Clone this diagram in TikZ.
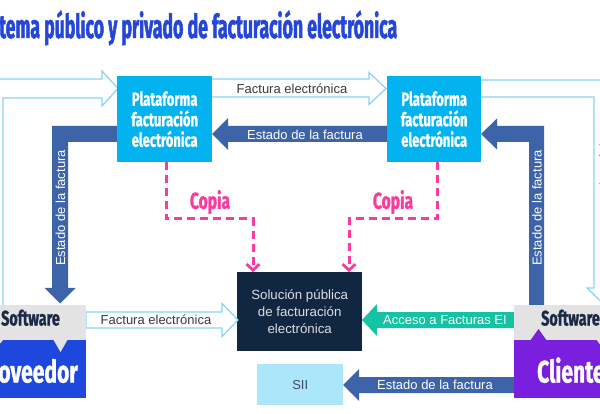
\documentclass[tikz,border=0pt]{standalone}
\usepackage{fontspec}
\setmainfont{Liberation Sans}
\newfontfamily\condfont[FakeStretch=0.68,FakeBold=1.2]{Fira Sans}
\newfontfamily\titlefont[FakeStretch=0.535,FakeBold=1.4]{Fira Sans}
\usetikzlibrary{arrows.meta}
\definecolor{titleblue}{HTML}{2447D9}
\definecolor{cyanbox}{HTML}{03B3F0}
\definecolor{solidblue}{HTML}{3D63A8}
\definecolor{lightline}{HTML}{86D3F7}
\definecolor{copypink}{HTML}{FA3A9C}
\definecolor{navybox}{HTML}{112640}
\definecolor{siibox}{HTML}{ABE6FB}
\definecolor{tealarrow}{HTML}{15C2A1}
\definecolor{softgrey}{HTML}{E3E3E3}
\definecolor{provblue}{HTML}{1E48DD}
\definecolor{clipurple}{HTML}{7A1FDD}
\definecolor{softtext}{HTML}{1B2A45}
\definecolor{graytext}{HTML}{3A3A3A}
\tikzset{
  platbox/.style={fill=cyanbox, draw=none},
  plattext/.style={text=white, font=\condfont\bfseries\fontsize{19}{20.5}\selectfont, align=center, inner sep=0},
  hollowarrow/.style={draw=lightline, line width=1.2pt, fill=white, line join=miter},
  solidarrow/.style={fill=solidblue, draw=none},
  arrowtext/.style={font=\fontsize{13}{15}\selectfont, inner sep=0},
  copyline/.style={draw=copypink, line width=3pt, dash pattern=on 8pt off 5pt, -{Straight Barb[length=6pt,width=13pt,line width=2.8pt]}},
  copytext/.style={text=copypink, font=\condfont\bfseries\fontsize{23}{24}\selectfont, inner sep=0},
  softwaretext/.style={text=softtext, font=\condfont\bfseries\fontsize{21}{22}\selectfont, inner sep=0},
  bigtext/.style={text=white, font=\condfont\bfseries\fontsize{31}{32}\selectfont, inner sep=0}
}
\begin{document}
\begin{tikzpicture}[x=1pt,y=-1pt]
\useasboundingbox (0,0) rectangle (600,414);
\clip (0,0) rectangle (600,414);
\fill[white] (0,0) rectangle (600,414);

% title
\node[anchor=base west, inner sep=0, text=titleblue, font=\titlefont\bfseries\fontsize{33}{34}\selectfont] (title) at (-1,38) {tema público y privado de facturación electrónica};

% hollow arrow from left edge into left platform
\draw[hollowarrow] (3,305) -- (3,98) -- (102,98) -- (102,106) -- (118,88.5) -- (102,71) -- (102,79) -- (-16,79) -- (-16,305);

% hollow arrow from right platform down to Cliente
\draw[hollowarrow] (470,80) -- (613,80) -- (613,288) -- (620,288) -- (603.5,304) -- (587,288) -- (594,288) -- (594,97) -- (470,97);
\node[arrowtext, text=graytext, rotate=90] (rtext) at (604.5,185) {Factura electrónica};

% top hollow arrow between platforms
\draw[hollowarrow] (205,79) -- (369,79) -- (369,72.5) -- (386,88.5) -- (369,104.5) -- (369,97) -- (205,97);
\node[arrowtext, text=graytext] (t1) at (292,88.5) {Factura electrónica};

% top solid arrow Estado
\fill[solidblue] (395,126) -- (228,126) -- (228,118) -- (212,134) -- (228,150) -- (228,142) -- (395,142) -- cycle;
\node[arrowtext, text=white] (t2) at (305,134.5) {Estado de la factura};

% left L arrow
\fill[solidblue] (120,126) -- (52,126) -- (52,288) -- (44.5,288) -- (60,303.5) -- (75.5,288) -- (68,288) -- (68,142) -- (120,142) -- cycle;
\node[arrowtext, text=white, rotate=90] (t3) at (60.5,208) {Estado de la factura};

% right L arrow
\fill[solidblue] (529,310) -- (529,142) -- (497,142) -- (497,149.5) -- (481,134) -- (497,118.5) -- (497,126) -- (544,126) -- (544,310) -- cycle;
\node[arrowtext, text=white, rotate=90] (t4) at (537,208) {Estado de la factura};

% platforms
\node[platbox, minimum width=95pt, minimum height=86pt, anchor=north west] (pl) at (117,76) {};
\node[plattext] (plt) at (pl.center) {Plataforma\\facturación\\electrónica};
\node[platbox, minimum width=94pt, minimum height=86pt, anchor=north west] (pr) at (387,76) {};
\node[plattext] (prt) at (pr.center) {Plataforma\\facturación\\electrónica};

% solucion box
\node[fill=navybox, minimum width=125pt, minimum height=79pt, anchor=north west, inner sep=0] (sol) at (237,272) {};
\node[text=white!85!navybox, font=\fontsize{13.3}{17}\selectfont, align=center, inner sep=0] (solt) at (sol.center) {Solución pública\\de facturación\\electrónica};

% SII box
\node[fill=siibox, minimum width=86pt, minimum height=41pt, anchor=north west, inner sep=0] (sii) at (257,364) {};
\node[text=softtext!85, font=\fontsize{13}{15}\selectfont, inner sep=0] (siit) at (sii.center) {SII};

% copia dashed
\coordinate (cl1) at (166,162);
\coordinate (cl2) at (166,219);
\coordinate (cl3) at (253,219);
\draw[copyline] (cl1) -- (cl2) -- (cl3) -- (cl3 |- sol.north);
\coordinate (cr1) at (437,162);
\coordinate (cr2) at (437,219);
\coordinate (cr3) at (349,219);
\draw[copyline] (cr1) -- (cr2) -- (cr3) -- (cr3 |- sol.north);
\node[copytext] (c1) at (210,202) {Copia};
\node[copytext] (c2) at (393,202) {Copia};

% bottom hollow arrow Proveedor -> Solucion
\draw[hollowarrow] (86,312) -- (222,312) -- (222,303.5) -- (238,320) -- (222,336.5) -- (222,328) -- (86,328) -- cycle;
\node[arrowtext, text=graytext] (t5) at (156,320) {Factura electrónica};

% teal arrow
\fill[tealarrow] (515,312) -- (377,312) -- (377,304) -- (362,320) -- (377,336) -- (377,328) -- (515,328) -- cycle;
\node[arrowtext, text=white] (t6) at (445,320) {Acceso a Facturas EI};

% bottom estado arrow
\fill[solidblue] (515,377) -- (359,377) -- (359,369) -- (343,385) -- (359,401) -- (359,393) -- (515,393) -- cycle;
\node[arrowtext, text=white] (t7) at (435,385) {Estado de la factura};

% Software Proveedor
\fill[softgrey] (-20,305) rectangle (86,340);
\fill[provblue] (-20,340) rectangle (86,398);
\fill[softgrey] (53,339) -- (68,339) -- (60.5,352) -- cycle;
\fill[softgrey] (-12,339) -- (4,339) -- (-4,348) -- cycle;
\node[softwaretext, anchor=base east] (sw1) at (60,325.5) {Software};
\node[bigtext, anchor=base east] (prov) at (78,382.5) {oveedor};

% Software Cliente
\fill[softgrey] (514,305) rectangle (620,340);
\fill[clipurple] (514,340) rectangle (620,398);
\fill[clipurple] (530,341) -- (547,341) -- (538.5,329) -- cycle;
\fill[softgrey] (596,339) -- (612,339) -- (604,350) -- cycle;
\node[softwaretext, anchor=base west] (sw2) at (541,325.5) {Software};
\node[bigtext, anchor=base west] (cli) at (537,382.5) {Cliente};
\end{tikzpicture}
\end{document}
